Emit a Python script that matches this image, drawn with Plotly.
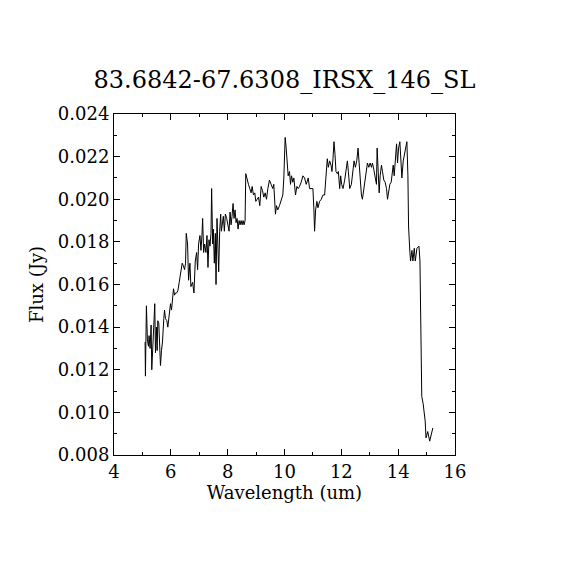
import plotly.graph_objects as go

# Spectrum
wavelength = [
    5.094, 5.106, 5.141, 5.176, 5.212, 5.235, 5.270, 5.306, 5.329, 5.365,
    5.400, 5.435, 5.459, 5.494, 5.518, 5.541, 5.576, 5.600, 5.635, 5.671,
    5.706, 5.753, 5.777, 5.812, 5.859, 5.894, 5.930, 5.965, 5.988, 6.024,
    6.059, 6.094, 6.130, 6.165, 6.200, 6.247, 6.294, 6.330, 6.365, 6.400,
    6.436, 6.483, 6.518, 6.542, 6.589, 6.624, 6.671, 6.707, 6.766, 6.813,
    6.860, 6.907, 6.942, 6.977, 7.025, 7.060, 7.095, 7.119, 7.154, 7.189,
    7.236, 7.272, 7.307, 7.342, 7.378, 7.413, 7.436, 7.472, 7.495, 7.531,
    7.566, 7.590, 7.625, 7.660, 7.684, 7.719, 7.754, 7.778, 7.813, 7.848,
    7.884, 7.919, 7.966, 8.013, 8.049, 8.084, 8.119, 8.154, 8.190, 8.225,
    8.260, 8.296, 8.331, 8.366, 8.402, 8.437, 8.472, 8.508, 8.543, 8.578,
    8.613, 8.637, 8.684, 8.731, 8.778, 8.825, 8.861, 8.908, 8.955, 8.990,
    9.037, 9.084, 9.131, 9.178, 9.226, 9.273, 9.320, 9.367, 9.414, 9.470,
    9.529, 9.588, 9.623, 9.658, 9.682, 9.717, 9.764, 9.823, 9.882, 9.941,
    9.976, 10.023, 10.059, 10.094, 10.129, 10.176, 10.212, 10.247, 10.294, 10.329,
    10.388, 10.435, 10.482, 10.529, 10.588, 10.647, 10.706, 10.765, 10.800, 10.835,
    10.882, 10.941, 11.000, 11.035, 11.059, 11.094, 11.141, 11.177, 11.236, 11.294,
    11.353, 11.412, 11.471, 11.506, 11.542, 11.589, 11.636, 11.671, 11.706, 11.742,
    11.777, 11.812, 11.859, 11.895, 11.942, 11.977, 12.012, 12.059, 12.118, 12.177,
    12.212, 12.248, 12.295, 12.354, 12.413, 12.448, 12.495, 12.542, 12.589, 12.624,
    12.671, 12.707, 12.742, 12.789, 12.836, 12.883, 12.919, 12.966, 13.013, 13.060,
    13.095, 13.142, 13.189, 13.236, 13.260, 13.295, 13.331, 13.366, 13.413, 13.448,
    13.495, 13.542, 13.590, 13.625, 13.660, 13.707, 13.754, 13.789, 13.825, 13.860,
    13.895, 13.943, 13.978, 14.013, 14.060, 14.096, 14.131, 14.178, 14.225, 14.272,
    14.307, 14.343, 14.366, 14.413, 14.437, 14.484, 14.519, 14.566, 14.602, 14.661,
    14.731, 14.767, 14.800, 14.830, 14.880, 14.950, 14.980, 15.040, 15.110, 15.220,
]
flux = [
    0.0133, 0.0117, 0.0150, 0.0134, 0.0131, 0.0136, 0.0130, 0.0141, 0.0120, 0.0133,
    0.0144, 0.0151, 0.0128, 0.0140, 0.0129, 0.0143, 0.0142, 0.0134, 0.0122, 0.0129,
    0.0133, 0.0144, 0.0148, 0.0144, 0.0143, 0.0140, 0.0144, 0.0146, 0.0151, 0.0148,
    0.0154, 0.0158, 0.0155, 0.0156, 0.0156, 0.0157, 0.0161, 0.0165, 0.0169, 0.0170,
    0.0169, 0.0167, 0.0170, 0.0184, 0.0179, 0.0162, 0.0170, 0.0159, 0.0161, 0.0156,
    0.0171, 0.0175, 0.0167, 0.0179, 0.0183, 0.0176, 0.0183, 0.0191, 0.0175, 0.0179,
    0.0175, 0.0183, 0.0168, 0.0181, 0.0178, 0.0184, 0.0205, 0.0179, 0.0186, 0.0170,
    0.0184, 0.0160, 0.0191, 0.0173, 0.0166, 0.0185, 0.0193, 0.0185, 0.0189, 0.0192,
    0.0185, 0.0193, 0.0191, 0.0187, 0.0185, 0.0194, 0.0188, 0.0192, 0.0198, 0.0191,
    0.0195, 0.0189, 0.0191, 0.0186, 0.0190, 0.0188, 0.0190, 0.0188, 0.0190, 0.0188,
    0.0190, 0.0212, 0.0209, 0.0207, 0.0205, 0.0203, 0.0206, 0.0202, 0.0203, 0.0199,
    0.0200, 0.0201, 0.0197, 0.0206, 0.0204, 0.0201, 0.0203, 0.0200, 0.0205, 0.0209,
    0.0207, 0.0205, 0.0207, 0.0200, 0.0193, 0.0197, 0.0195, 0.0197, 0.0200, 0.0202,
    0.0210, 0.0229, 0.0224, 0.0215, 0.0211, 0.0213, 0.0207, 0.0211, 0.0208, 0.0210,
    0.0202, 0.0206, 0.0205, 0.0206, 0.0208, 0.0211, 0.0210, 0.0207, 0.0209, 0.0210,
    0.0205, 0.0205, 0.0205, 0.0195, 0.0185, 0.0195, 0.0199, 0.0196, 0.0199, 0.0200,
    0.0202, 0.0202, 0.0211, 0.0219, 0.0215, 0.0218, 0.0216, 0.0213, 0.0219, 0.0227,
    0.0221, 0.0213, 0.0212, 0.0213, 0.0205, 0.0211, 0.0207, 0.0205, 0.0209, 0.0214,
    0.0218, 0.0213, 0.0205, 0.0207, 0.0215, 0.0218, 0.0215, 0.0218, 0.0224, 0.0216,
    0.0207, 0.0202, 0.0200, 0.0204, 0.0208, 0.0213, 0.0217, 0.0215, 0.0217, 0.0215,
    0.0217, 0.0214, 0.0210, 0.0207, 0.0224, 0.0215, 0.0203, 0.0211, 0.0216, 0.0213,
    0.0209, 0.0208, 0.0205, 0.0200, 0.0204, 0.0207, 0.0208, 0.0212, 0.0216, 0.0211,
    0.0217, 0.0226, 0.0217, 0.0224, 0.0227, 0.0218, 0.0210, 0.0218, 0.0222, 0.0225,
    0.0227, 0.0211, 0.0187, 0.0175, 0.0171, 0.0176, 0.0171, 0.0177, 0.0171, 0.0177,
    0.0178, 0.0171, 0.0127, 0.01075, 0.0104, 0.0096, 0.0088, 0.0091, 0.00865, 0.00927,
]

title = "83.6842-67.6308_IRSX_146_SL"
x_label = "Wavelength (um)"
y_label = "Flux (Jy)"

font = "DejaVu Serif"

fig = go.Figure()
fig.add_trace(go.Scatter(x=wavelength, y=flux, mode="lines",
                         line=dict(color="black", width=1), showlegend=False))

axis_style = dict(
    showline=True, linecolor="black", linewidth=1, mirror="allticks",
    ticks="inside", ticklen=6, tickcolor="black", tickwidth=1,
    showgrid=False, zeroline=False,
    tickfont=dict(family=font, size=18, color="black"),
)

fig.update_xaxes(range=[4, 16], dtick=2, tick0=4,
                 minor=dict(ticks="inside", dtick=1, ticklen=3, tickcolor="black"),
                 title=dict(text=x_label, font=dict(family=font, size=18, color="black"), standoff=5),
                 **axis_style)
fig.update_yaxes(range=[0.008, 0.024], dtick=0.002, tick0=0.008, tickformat=".3f",
                 minor=dict(ticks="inside", dtick=0.001, ticklen=3, tickcolor="black"),
                 title=dict(text=y_label, font=dict(family=font, size=18, color="black"), standoff=9),
                 **axis_style)

# page body adds 8px offset, so margins are shifted to land the frame at 114..455
fig.update_layout(
    width=570, height=570,
    margin=dict(l=106, r=123, t=106, b=123),
    paper_bgcolor="white", plot_bgcolor="white",
    title=dict(text=title, xref="paper", x=0.5, xanchor="center", y=0.874, yanchor="middle",
               font=dict(family=font, size=24, color="black")),
)

fig.write_html("out.html")
